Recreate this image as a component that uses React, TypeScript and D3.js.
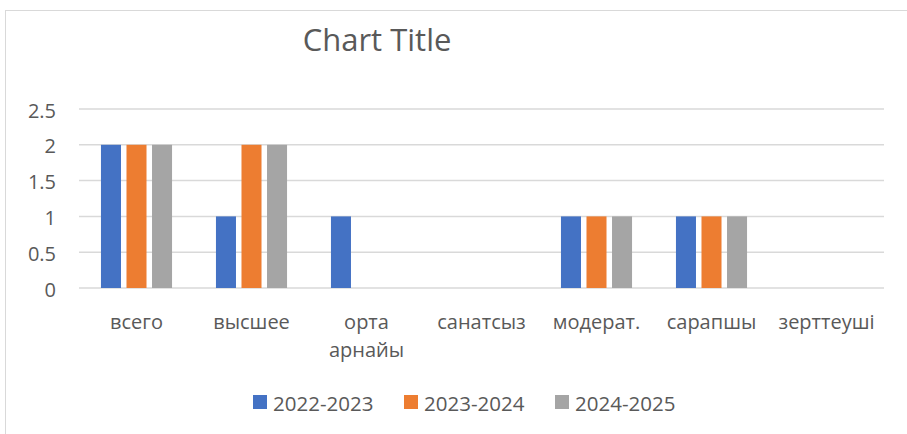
import * as d3 from 'd3'

const categories = ['всего', 'высшее', 'орта\nарнайы', 'санатсыз', 'модерат.', 'сарапшы', 'зерттеуші']
const seriesNames = ['2022-2023', '2023-2024', '2024-2025']
const values2022 = [2, 1, 1, 0, 1, 1, 0]
const values2023 = [2, 2, 0, 0, 1, 1, 0]
const values2024 = [2, 2, 0, 0, 1, 1, 0]
const yTicks = [0, 0.5, 1, 1.5, 2, 2.5]
const colors = ['#4472C4', '#ED7D31', '#A5A5A5']

const seriesValues = [values2022, values2023, values2024]

const W = 907
const H = 434
const FONT = '"Open Sans", sans-serif'
const TEXT = '#595959'

const App = () => {
    const left = 79
    const right = 884
    const top = 109
    const bottom = 288

    const x0 = d3.scaleBand<string>().domain(categories).range([left, right]).padding(0)
    const x1 = d3
        .scaleBand<string>()
        .domain(seriesNames)
        .range([0, x0.bandwidth()])
        .paddingInner(0.216)
        .paddingOuter(0.86)
    const y = d3.scaleLinear().domain([0, 2.5]).range([bottom, top])

    // legend layout
    const legendX = [253, 404, 555]

    return (
        <svg width={W} height={H} style={{ position: 'absolute', left: 0, top: 0, fontFamily: FONT }}>
            <rect x={0} y={0} width={W} height={H} fill="#fff" />
            <rect x={5.5} y={10.5} width={W + 10} height={H + 10} fill="none" stroke="#d9d9d9" strokeWidth={1} />

            <text x={377} y={39} textAnchor="middle" dominantBaseline="central" fontSize={31} fill={TEXT}>
                Chart Title
            </text>

            {yTicks.map(t => (
                <g key={t}>
                    <line x1={left} x2={right} y1={y(t)} y2={y(t)} stroke="#d9d9d9" strokeWidth={1.5} />
                    <text x={56} y={y(t) + 1} textAnchor="end" dominantBaseline="central" fontSize={20} fill={TEXT}>
                        {t}
                    </text>
                </g>
            ))}

            {categories.map((c, ci) => (
                <g key={c} transform={`translate(${x0(c)},0)`}>
                    {seriesNames.map((s, si) => {
                        const v = seriesValues[si][ci]
                        if (!v) return null
                        return (
                            <rect
                                key={s}
                                x={x1(s)}
                                y={y(v)}
                                width={x1.bandwidth()}
                                height={y(0) - y(v)}
                                fill={colors[si]}
                            />
                        )
                    })}
                    {c.split('\n').map((line, li) => (
                        <text
                            key={li}
                            x={x0.bandwidth() / 2}
                            y={321 + li * 28}
                            textAnchor="middle"
                            dominantBaseline="central"
                            fontSize={20}
                            fill={TEXT}
                        >
                            {line}
                        </text>
                    ))}
                </g>
            ))}

            {seriesNames.map((s, i) => (
                <g key={s} transform={`translate(${legendX[i]},395)`}>
                    <rect x={0} y={0} width={14} height={14} fill={colors[i]} />
                    <text x={20} y={7.5} dominantBaseline="central" fontSize={20.5} fill={TEXT}>
                        {s}
                    </text>
                </g>
            ))}
        </svg>
    )
}

export default App
